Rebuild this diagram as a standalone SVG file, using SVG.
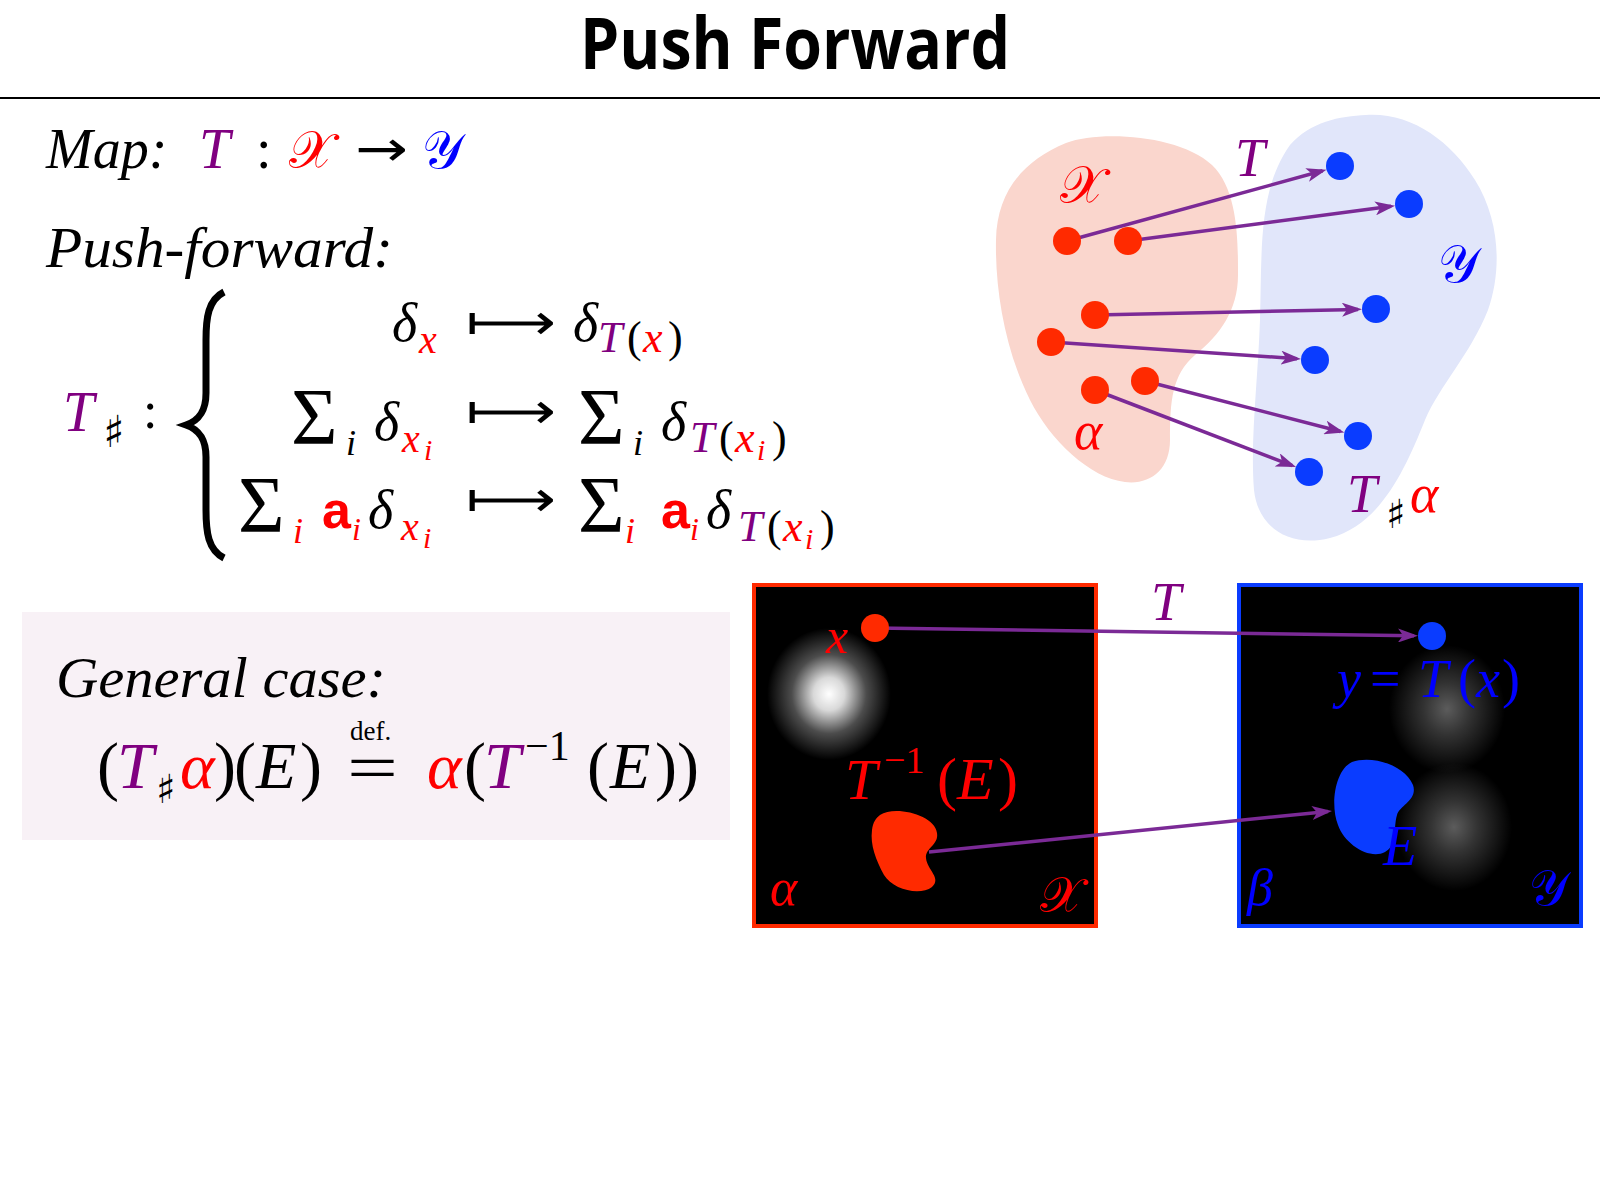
<svg xmlns="http://www.w3.org/2000/svg" width="1600" height="1200" viewBox="0 0 1600 1200">
<style>
.m{font-family:"Liberation Serif",serif;font-style:italic}
.u{font-family:"Liberation Serif",serif;font-style:normal}
.s{font-family:"DejaVu Sans",sans-serif;font-style:normal}
.cal{font-family:"DejaVu Sans","Noto Sans",sans-serif;font-style:normal}
.bo{font-family:"Liberation Sans",sans-serif;font-weight:700}
.pu{fill:#800080}
.rd{fill:#ff0000}
.bl{fill:#0000ff}
.arr{stroke:#7b2a96;stroke-width:3.5;fill:none;marker-end:url(#ah)}
.rdot{fill:#ff2a00}
.bdot{fill:#0a3cff}
</style>
<defs>
<marker id="ah" viewBox="0 0 20 14" refX="16" refY="7" markerWidth="20" markerHeight="14" markerUnits="userSpaceOnUse" orient="auto">
<path d="M0,0 L20,7 L0,14 L5,7 Z" fill="#7b2a96"/>
</marker>
<radialGradient id="gw">
<stop offset="0" stop-color="#fff" stop-opacity="1"/>
<stop offset="0.25" stop-color="#fff" stop-opacity="0.85"/>
<stop offset="0.6" stop-color="#fff" stop-opacity="0.3"/>
<stop offset="1" stop-color="#fff" stop-opacity="0"/>
</radialGradient>
<radialGradient id="gg">
<stop offset="0" stop-color="#fff" stop-opacity="0.36"/>
<stop offset="0.4" stop-color="#fff" stop-opacity="0.2"/>
<stop offset="1" stop-color="#fff" stop-opacity="0"/>
</radialGradient>
</defs>
<rect width="1600" height="1200" fill="#fff"/>

<g id="title">
<text x="580" y="69" font-family="'Open Sans',sans-serif" font-weight="700" font-size="71" textLength="430" lengthAdjust="spacingAndGlyphs">Push Forward</text>
<line x1="0" y1="98" x2="1600" y2="98" stroke="#000" stroke-width="2"/>
</g>

<g id="map-line" font-size="56">
<text class="m" x="46" y="168">Map:</text>
<text class="m pu" x="199" y="168">T</text>
<text class="u" x="256" y="168">:</text>
<text class="cal rd" x="289" y="168" font-size="52">𝒳</text>
<text class="s" x="355" y="166" font-size="50" textLength="53" lengthAdjust="spacingAndGlyphs">→</text>
<text class="cal bl" x="422" y="168" font-size="52">𝒴</text>
</g>

<g id="pushforward-label">
<text class="m" x="46" y="267" font-size="57" textLength="347" lengthAdjust="spacingAndGlyphs">Push-forward:</text>
</g>

<g id="pushforward-def">
<text class="m pu" x="63" y="431" font-size="56">T</text>
<text class="s" x="103" y="447" font-size="44">♯</text>
<text class="u" x="143" y="428" font-size="52">:</text>
<path d="M224 292 C208 300 206 318 206 340 L206 393 C206 410 200 420 186 425 C200 430 206 440 206 457 L206 510 C206 532 208 550 224 558" fill="none" stroke="#000" stroke-width="7"/>

<text class="m" x="392" y="341" font-size="54">δ</text>
<text class="m rd" x="419" y="353" font-size="40">x</text>
<text class="s" x="466" y="339" font-size="50" textLength="90" lengthAdjust="spacingAndGlyphs">⟼</text>
<text class="m" x="573" y="341" font-size="54">δ</text>
<text class="m pu" x="598" y="352" font-size="44">T</text>
<text class="u" x="627" y="352" font-size="44">(</text>
<text class="m rd" x="643" y="352" font-size="44">x</text>
<text class="u" x="668" y="352" font-size="44">)</text>

<text class="u" x="291" y="444" font-size="80">Σ</text>
<text class="m" x="346" y="455" font-size="36">i</text>
<text class="m" x="374" y="440" font-size="54">δ</text>
<text class="m rd" x="402" y="452" font-size="40">x</text>
<text class="m rd" x="424" y="460" font-size="30">i</text>
<text class="s" x="466" y="428" font-size="50" textLength="90" lengthAdjust="spacingAndGlyphs">⟼</text>
<text class="u" x="578" y="444" font-size="80">Σ</text>
<text class="m" x="633" y="455" font-size="36">i</text>
<text class="m" x="661" y="440" font-size="54">δ</text>
<text class="m pu" x="690" y="452" font-size="44">T</text>
<text class="u" x="719" y="452" font-size="44">(</text>
<text class="m rd" x="735" y="452" font-size="44">x</text>
<text class="m rd" x="757" y="460" font-size="30">i</text>
<text class="u" x="772" y="452" font-size="44">)</text>

<text class="u" x="238" y="532" font-size="80">Σ</text>
<text class="m rd" x="293" y="543" font-size="36">i</text>
<text class="bo rd" x="322" y="528" font-size="52">a</text>
<text class="m rd" x="352" y="540" font-size="32">i</text>
<text class="m" x="368" y="528" font-size="54">δ</text>
<text class="m rd" x="401" y="540" font-size="40">x</text>
<text class="m rd" x="423" y="548" font-size="30">i</text>
<text class="s" x="466" y="516" font-size="50" textLength="90" lengthAdjust="spacingAndGlyphs">⟼</text>
<text class="u" x="578" y="532" font-size="80">Σ</text>
<text class="m rd" x="625" y="543" font-size="36">i</text>
<text class="bo rd" x="661" y="528" font-size="52">a</text>
<text class="m rd" x="690" y="540" font-size="32">i</text>
<text class="m" x="706" y="528" font-size="54">δ</text>
<text class="m pu" x="738" y="541" font-size="44">T</text>
<text class="u" x="767" y="541" font-size="44">(</text>
<text class="m rd" x="783" y="541" font-size="44">x</text>
<text class="m rd" x="805" y="549" font-size="30">i</text>
<text class="u" x="820" y="541" font-size="44">)</text>
</g>

<g id="general-case">
<rect x="22" y="612" width="708" height="228" fill="#f8f1f6"/>
<text class="m" x="56" y="697" font-size="58" textLength="330" lengthAdjust="spacingAndGlyphs">General case:</text>
<text class="u" x="97" y="788" font-size="66">(</text>
<text class="m pu" x="117" y="788" font-size="66">T</text>
<text class="s" x="156" y="803" font-size="40">♯</text>
<text class="m rd" x="180" y="788" font-size="66">α</text>
<text class="u" x="214" y="788" font-size="66">)</text>
<text class="u" x="234" y="788" font-size="66">(</text>
<text class="m" x="256" y="788" font-size="66">E</text>
<text class="u" x="300" y="788" font-size="66">)</text>
<text class="u" x="350" y="740" font-size="27">def.</text>
<text class="u" x="347" y="790" font-size="66" textLength="51" lengthAdjust="spacingAndGlyphs">=</text>
<text class="m rd" x="427" y="788" font-size="66">α</text>
<text class="u" x="464" y="788" font-size="66">(</text>
<text class="m pu" x="484" y="788" font-size="66">T</text>
<text class="u" x="525" y="760" font-size="42">−1</text>
<text class="u" x="587" y="788" font-size="66">(</text>
<text class="m" x="610" y="788" font-size="66">E</text>
<text class="u" x="655" y="788" font-size="66">)</text>
<text class="u" x="677" y="788" font-size="66">)</text>
</g>

<g id="top-diagram">
<g id="blob-x"><path d="M1066 143 C1100 130 1180 135 1212 165 C1238 190 1238 240 1238 275 C1238 310 1220 335 1195 355 C1172 375 1170 400 1170 440 C1170 470 1150 485 1125 482 C1090 478 1050 440 1030 400 C1005 350 995 290 996 240 C997 190 1025 160 1066 143 Z" fill="#fad6cd"/></g>
<g id="blob-y"><path d="M1366 115 C1410 112 1450 140 1475 180 C1500 220 1502 270 1488 310 C1470 355 1440 385 1425 420 C1405 470 1380 525 1330 538 C1290 548 1258 528 1254 490 C1250 440 1258 380 1260 320 C1262 250 1258 190 1290 145 C1310 122 1340 116 1366 115 Z" fill="#e1e6fa"/></g>
<g id="top-connectors">
<line class="arr" x1="1067" y1="241" x2="1322.6" y2="170.8"/>
<line class="arr" x1="1128" y1="241" x2="1391.1" y2="206.3"/>
<line class="arr" x1="1095" y1="315" x2="1358" y2="309.4"/>
<line class="arr" x1="1051" y1="342" x2="1297" y2="358.7"/>
<line class="arr" x1="1145" y1="381" x2="1340.5" y2="431.5"/>
<line class="arr" x1="1095" y1="390" x2="1292.3" y2="465.6"/>
</g>
<g id="red-points">
<circle class="rdot" cx="1067" cy="241" r="14"/>
<circle class="rdot" cx="1128" cy="241" r="14"/>
<circle class="rdot" cx="1095" cy="315" r="14"/>
<circle class="rdot" cx="1051" cy="342" r="14"/>
<circle class="rdot" cx="1145" cy="381" r="14"/>
<circle class="rdot" cx="1095" cy="390" r="14"/>
</g>
<g id="blue-points">
<circle class="bdot" cx="1340" cy="166" r="14"/>
<circle class="bdot" cx="1409" cy="204" r="14"/>
<circle class="bdot" cx="1376" cy="309" r="14"/>
<circle class="bdot" cx="1315" cy="360" r="14"/>
<circle class="bdot" cx="1358" cy="436" r="14"/>
<circle class="bdot" cx="1309" cy="472" r="14"/>
</g>
<g id="top-labels">
<text class="cal rd" x="1060" y="203" font-size="52">𝒳</text>
<text class="m pu" x="1235" y="176" font-size="54">T</text>
<text class="cal bl" x="1438" y="282" font-size="52">𝒴</text>
<text class="m rd" x="1074" y="449" font-size="54">α</text>
<text class="m pu" x="1347" y="512" font-size="54">T</text>
<text class="s" x="1386" y="528" font-size="40">♯</text>
<text class="m rd" x="1410" y="512" font-size="54">α</text>
</g>
</g>

<g id="panel-alpha">
<rect x="754" y="585" width="342" height="341" fill="#000"/>
<ellipse cx="829" cy="694" rx="62" ry="66" fill="url(#gw)"/>
<path d="M880 815 C895 805 935 815 937 833 C939 845 925 848 926 858 C927 870 942 878 932 887 C920 896 893 890 884 875 C876 860 870 845 872 830 C873 822 876 818 880 815 Z" fill="#ff2a00"/>
<rect x="754" y="585" width="342" height="341" fill="none" stroke="#ff2a00" stroke-width="4"/>
</g>
<g id="panel-beta">
<rect x="1239" y="585" width="342" height="341" fill="#000"/>
<ellipse cx="1447" cy="709" rx="58" ry="64" fill="url(#gg)"/>
<ellipse cx="1454" cy="827" rx="58" ry="64" fill="url(#gg)"/>
<path d="M1352 762 C1372 755 1405 765 1413 785 C1418 800 1400 805 1397 815 C1393 828 1398 845 1385 852 C1370 860 1345 845 1338 825 C1330 805 1335 770 1352 762 Z" fill="#0a3cff"/>
<rect x="1239" y="585" width="342" height="341" fill="none" stroke="#0a3cff" stroke-width="4"/>
</g>
<g id="bottom-connectors">
<line class="arr" x1="875" y1="628" x2="1414" y2="635.7"/>
<line class="arr" x1="929" y1="852" x2="1328" y2="811.4"/>
</g>
<g id="bottom-points">
<circle class="rdot" cx="875" cy="628" r="14"/>
<circle class="bdot" cx="1432" cy="636" r="14"/>
</g>
<g id="bottom-labels">
<text class="m pu" x="1151" y="620" font-size="54">T</text>
<text class="m rd" x="826" y="653" font-size="50">x</text>
<text class="m rd" x="845" y="799" font-size="58">T</text>
<text class="u rd" x="884" y="773" font-size="38">−1</text>
<text class="u rd" x="937" y="799" font-size="60">(</text>
<text class="m rd" x="957" y="799" font-size="60">E</text>
<text class="u rd" x="998" y="799" font-size="60">)</text>
<text class="m rd" x="770" y="905" font-size="52">α</text>
<text class="cal rd" x="1040" y="912" font-size="50">𝒳</text>
<text class="m bl" x="1337" y="697" font-size="54">y</text>
<text class="u bl" x="1370" y="697" font-size="54">=</text>
<text class="m bl" x="1418" y="697" font-size="54">T</text>
<text class="u bl" x="1458" y="697" font-size="54">(</text>
<text class="m bl" x="1476" y="697" font-size="54">x</text>
<text class="u bl" x="1502" y="697" font-size="54">)</text>
<text class="m bl" x="1383" y="865" font-size="56">E</text>
<text class="m bl" x="1247" y="905" font-size="52">β</text>
<text class="cal bl" x="1529" y="905" font-size="50">𝒴</text>
</g>
</svg>
